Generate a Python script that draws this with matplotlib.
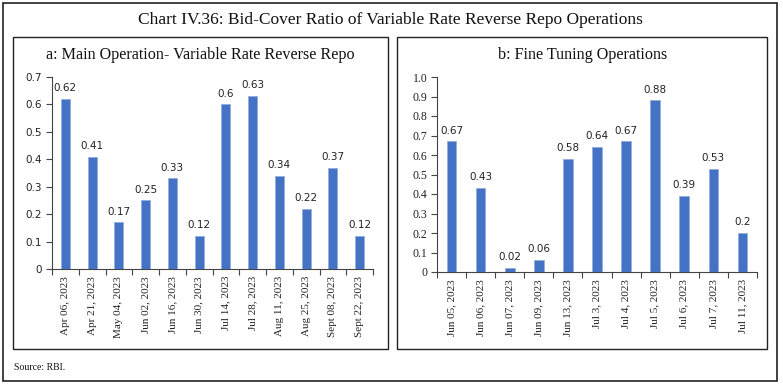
import matplotlib
matplotlib.use("Agg")
import matplotlib.pyplot as plt
from matplotlib.patches import Rectangle
import numpy as np

title = "Chart IV.36: Bid-Cover Ratio of Variable Rate Reverse Repo Operations"
title_a = "a: Main Operation- Variable Rate Reverse Repo"
title_b = "b: Fine Tuning Operations"

dates_a = ["Apr 06, 2023", "Apr 21, 2023", "May 04, 2023", "Jun 02, 2023", "Jun 16, 2023",
           "Jun 30, 2023", "Jul 14, 2023", "Jul 28, 2023", "Aug 11, 2023", "Aug 25, 2023",
           "Sept 08, 2023", "Sept 22, 2023"]
values_a = [0.62, 0.41, 0.17, 0.25, 0.33, 0.12, 0.60, 0.63, 0.34, 0.22, 0.37, 0.12]
labels_a = ["0.62", "0.41", "0.17", "0.25", "0.33", "0.12", "0.6", "0.63", "0.34", "0.22", "0.37", "0.12"]
yticks_a = [0, 0.1, 0.2, 0.3, 0.4, 0.5, 0.6, 0.7]
yticklabels_a = ["0", "0.1", "0.2", "0.3", "0.4", "0.5", "0.6", "0.7"]

dates_b = ["Jun 05, 2023", "Jun 06, 2023", "Jun 07, 2023", "Jun 09, 2023", "Jun 13, 2023",
           "Jul 3, 2023", "Jul 4, 2023", "Jul 5, 2023", "Jul 6, 2023", "Jul 7, 2023", "Jul 11, 2023"]
values_b = [0.67, 0.43, 0.02, 0.06, 0.58, 0.64, 0.67, 0.88, 0.39, 0.53, 0.20]
labels_b = ["0.67", "0.43", "0.02", "0.06", "0.58", "0.64", "0.67", "0.88", "0.39", "0.53", "0.2"]
yticks_b = [0, 0.1, 0.2, 0.3, 0.4, 0.5, 0.6, 0.7, 0.8, 0.9, 1.0]
yticklabels_b = ["0", "0.1", "0.2", "0.3", "0.4", "0.5", "0.6", "0.7", "0.8", "0.9", "1.0"]

W, H = 783, 386
fig = plt.figure(figsize=(W / 100, H / 100), dpi=100)
fig.patch.set_facecolor("white")

def fx(x):
    return x / W

def fy(y):
    return 1 - y / H

serif = ["Liberation Serif", "DejaVu Serif"]
sans = ["DejaVu Sans"]
bar_color = "#4472C4"

# outer border
fig.add_artist(Rectangle((fx(3), fy(381)), fx(774), 378 / H, transform=fig.transFigure,
                         fill=False, edgecolor="#222222", linewidth=1.2))
# panel borders
fig.add_artist(Rectangle((fx(13), fy(349)), fx(375), 312 / H, transform=fig.transFigure,
                         fill=False, edgecolor="#222222", linewidth=1.0))
fig.add_artist(Rectangle((fx(397), fy(349)), fx(370), 312 / H, transform=fig.transFigure,
                         fill=False, edgecolor="#222222", linewidth=1.0))

fig.text(fx(390), fy(20), title, ha="center", va="center", fontsize=12.5, family=serif, color="#111111")
fig.text(fx(200), fy(55), title_a, ha="center", va="center", fontsize=11.6, family=serif, color="#111111")
fig.text(fx(583), fy(55), title_b, ha="center", va="center", fontsize=11.6, family=serif, color="#111111")
fig.text(fx(14), fy(367), "Source: RBI.", ha="left", va="center", fontsize=7, family=serif, color="#111111")

def panel(rect, dates, values, labels, yticks, yticklabels, ymax, yfam, ysize):
    ax = fig.add_axes(rect)
    n = len(values)
    x = np.arange(n)
    ax.bar(x, values, width=0.33, color=bar_color, edgecolor="#8FAADC", linewidth=0.5, zorder=3)
    for xi, v, lab in zip(x, values, labels):
        ax.text(xi, v + ymax * 0.03, lab, ha="center", va="bottom", fontsize=7.5, family=sans, color="#222222")
    ax.set_xlim(-0.5, n - 0.5)
    ax.set_ylim(0, ymax)
    ax.set_yticks(yticks)
    ax.set_yticklabels(yticklabels, fontsize=ysize, family=yfam, color="#222222")
    ax.set_xticks(x)
    ax.set_xticklabels(dates, rotation=90, fontsize=8, family=serif, color="#222222")
    ax.tick_params(axis="x", length=0, pad=5)
    ax.set_xticks(np.arange(n + 1) - 0.5, minor=True)
    ax.tick_params(axis="x", which="minor", length=4, width=0.8, color="#444444")
    ax.tick_params(axis="y", length=4, width=0.8, color="#444444", pad=3)
    for s in ["top", "right"]:
        ax.spines[s].set_visible(False)
    for s in ["left", "bottom"]:
        ax.spines[s].set_color("#444444")
        ax.spines[s].set_linewidth(0.8)
    return ax

panel([fx(52), fy(269), (373 - 52) / W, (269 - 77) / H], dates_a, values_a, labels_a,
      yticks_a, yticklabels_a, 0.7, sans, 7.5)
panel([fx(437), fy(272), (757 - 437) / W, (272 - 77) / H], dates_b, values_b, labels_b,
      yticks_b, yticklabels_b, 1.0, serif, 8.5)

fig.savefig("out.png", dpi=100, facecolor="white")
